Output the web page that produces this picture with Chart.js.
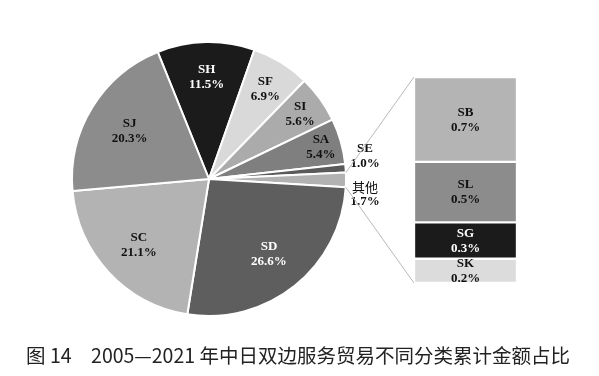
<!DOCTYPE html>
<html>
<head>
<meta charset="utf-8">
<script src="https://cdn.jsdelivr.net/npm/chart.js@4.4.0/dist/chart.umd.min.js"></script>
<style>
  html, body { margin: 0; padding: 0; background: #fff; }
  #wrap { position: relative; width: 599px; height: 376px; }
  #wrap canvas { position: absolute; left: 0; top: 0; }
</style>
</head>
<body>
<div id="wrap">
  <canvas id="pieChart" width="599" height="376"></canvas>
  <canvas id="barChart" width="599" height="376"></canvas>
</div>
<script>
// pie: service categories, share of cumulative amount (%)
const pieLabels = ["SH", "SF", "SI", "SA", "SE", "其他", "SD", "SC", "SJ"];
const pieValues = [11.5, 6.9, 5.6, 5.4, 1.0, 1.7, 26.6, 21.1, 20.3];
// breakdown of "其他"
const barLabels = ["SB", "SL", "SG", "SK"];
const barValues = [0.7, 0.5, 0.3, 0.2];
const captionText = "图 14\u30002005—2021 年中日双边服务贸易不同分类累计金额占比";

const pieColors = ["#1b1b1b", "#d9d9d9", "#ababab", "#7f7f7f", "#5a5a5a", "#b2b2b2", "#5e5e5e", "#b3b3b3", "#8c8c8c"];
const pieTextColors = ["#fff", "#111", "#111", "#111", "#111", "#111", "#fff", "#111", "#111"];
const pieLabelRadius = [0.75, 0.78, 0.82, 0.85, 0, 0, 0.7, 0.7, 0.68];
const barColors = ["#b4b4b4", "#8c8c8c", "#1b1b1b", "#dcdcdc"];
const barTextColors = ["#111", "#111", "#fff", "#111"];
const OTHER = pieLabels.indexOf("其他");

const labelFont = 'bold 13px "Liberation Serif", "Times New Roman", serif';

function drawTwoLines(ctx, x, y, a, b, color) {
  ctx.fillStyle = color;
  ctx.fillText(a, x, y - 7);
  ctx.fillText(b, x, y + 8);
}

const pieLabelPlugin = {
  id: "pieLabels",
  afterDraw(chart) {
    const ctx = chart.ctx;
    const meta = chart.getDatasetMeta(0);
    ctx.save();
    ctx.font = labelFont;
    ctx.textAlign = "center";
    ctx.textBaseline = "middle";
    meta.data.forEach((arc, i) => {
      const p = arc.getProps(["x", "y", "startAngle", "endAngle", "outerRadius"], true);
      const mid = (p.startAngle + p.endAngle) / 2;
      const pct = pieValues[i].toFixed(1) + "%";
      if (pieLabelRadius[i] > 0) {
        const r = p.outerRadius * pieLabelRadius[i];
        drawTwoLines(ctx, p.x + Math.cos(mid) * r, p.y + Math.sin(mid) * r, pieLabels[i], pct, pieTextColors[i]);
      } else {
        // small slices: label outside, to the right
        const ey = p.y + Math.sin(mid) * p.outerRadius;
        const lx = p.x + p.outerRadius + 19;
        const ly = i === OTHER ? ey + 14 : ey - 13;
        if (i === OTHER) ctx.font = '13px "Noto Sans CJK SC", sans-serif';
        ctx.fillStyle = "#111";
        ctx.fillText(pieLabels[i], lx, ly - 7);
        ctx.font = labelFont;
        ctx.fillText(pct, lx, ly + 8);
      }
    });
    // caption
    ctx.font = '19.5px "Noto Sans CJK SC", sans-serif';
    ctx.fillStyle = "#222";
    ctx.fillText(captionText, 298, 356);
    ctx.restore();
  }
};

const pieChart = new Chart(document.getElementById("pieChart").getContext("2d"), {
  type: "pie",
  data: {
    labels: pieLabels,
    datasets: [{
      data: pieValues,
      backgroundColor: pieColors,
      borderColor: "#fff",
      borderWidth: 2,
      radius: 137
    }]
  },
  options: {
    responsive: false,
    animation: false,
    devicePixelRatio: 1,
    rotation: -22,
    layout: { padding: { left: 0, right: 181, top: 0, bottom: 18 } },
    plugins: { legend: { display: false }, tooltip: { enabled: false } }
  },
  plugins: [pieLabelPlugin]
});

const barLabelPlugin = {
  id: "barLabels",
  beforeDatasetsDraw(chart) {
    // connector lines from the "其他" slice to the bar
    const arc = pieChart.getDatasetMeta(0).data[OTHER];
    const p = arc.getProps(["x", "y", "startAngle", "endAngle", "outerRadius"], true);
    const first = chart.getDatasetMeta(0).data[0];
    const last = chart.getDatasetMeta(barValues.length - 1).data[0];
    const left = first.x - first.width / 2;
    const ctx = chart.ctx;
    ctx.save();
    ctx.strokeStyle = "#b8b8b8";
    ctx.lineWidth = 1;
    ctx.beginPath();
    ctx.moveTo(p.x + Math.cos(p.startAngle) * p.outerRadius, p.y + Math.sin(p.startAngle) * p.outerRadius);
    ctx.lineTo(left, Math.min(first.y, first.base));
    ctx.moveTo(p.x + Math.cos(p.endAngle) * p.outerRadius, p.y + Math.sin(p.endAngle) * p.outerRadius);
    ctx.lineTo(left, Math.max(last.y, last.base));
    ctx.stroke();
    ctx.restore();
  },
  afterDatasetsDraw(chart) {
    const ctx = chart.ctx;
    ctx.save();
    ctx.font = labelFont;
    ctx.textAlign = "center";
    ctx.textBaseline = "middle";
    barValues.forEach((v, i) => {
      const bar = chart.getDatasetMeta(i).data[0];
      const cy = (bar.y + bar.base) / 2;
      drawTwoLines(ctx, bar.x, cy, barLabels[i], v.toFixed(1) + "%", barTextColors[i]);
    });
    ctx.restore();
  }
};

new Chart(document.getElementById("barChart").getContext("2d"), {
  type: "bar",
  data: {
    labels: [""],
    datasets: barLabels.map((name, i) => ({
      label: name,
      data: [barValues[i]],
      backgroundColor: barColors[i],
      borderColor: "#fff",
      borderWidth: 1.5,
      borderSkipped: false,
      barPercentage: 1,
      categoryPercentage: 1
    }))
  },
  options: {
    responsive: false,
    animation: false,
    devicePixelRatio: 1,
    layout: { padding: { left: 414, right: 82, top: 77, bottom: 93 } },
    scales: {
      x: { stacked: true, display: false },
      y: { stacked: true, display: false, min: 0, max: 1.7, reverse: true }
    },
    plugins: { legend: { display: false }, tooltip: { enabled: false } }
  },
  plugins: [barLabelPlugin]
});
</script>
</body>
</html>
